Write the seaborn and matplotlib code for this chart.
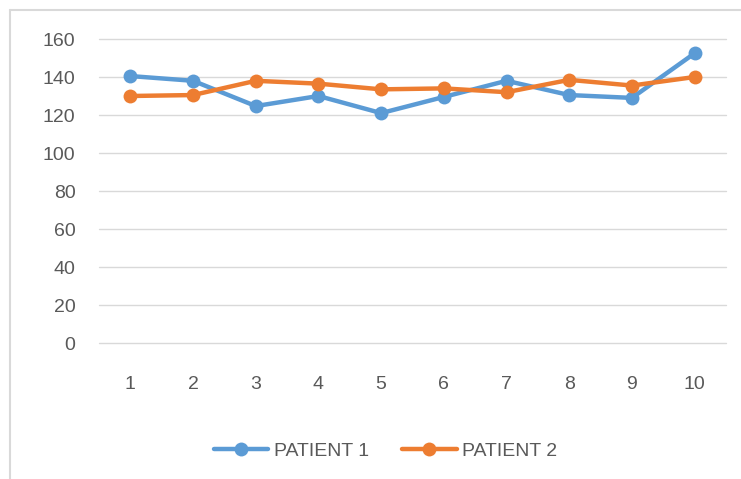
import numpy as np
import pandas as pd
import matplotlib
matplotlib.use('Agg')
import matplotlib.pyplot as plt
import seaborn as sns

# Данные
visits = [1, 2, 3, 4, 5, 6, 7, 8, 9, 10]
patient1 = [140.5, 138, 124.7, 130, 121, 129.5, 138, 130.5, 129, 152.5]
patient2 = [130, 130.5, 138, 136.5, 133.5, 134, 132, 138.5, 135.5, 140]
series_names = ['PATIENT 1', 'PATIENT 2']

df = pd.DataFrame({'visit': visits * 2,
                   'value': patient1 + patient2,
                   'patient': [series_names[0]] * len(visits) + [series_names[1]] * len(visits)})

sns.set_style('white')
plt.rcParams['font.family'] = ['Liberation Sans', 'DejaVu Sans']

fig = plt.figure(figsize=(7.41, 4.79), dpi=100)
ax = fig.add_axes([99 / 741, 1 - 343 / 479, (726 - 99) / 741, (343 - 39) / 479])

palette = {series_names[0]: '#5B9BD5', series_names[1]: '#ED7D31'}
sns.lineplot(data=df, x='visit', y='value', hue='patient', palette=palette,
             marker='o', markersize=10, markeredgewidth=0, linewidth=3.2,
             ax=ax, clip_on=False, zorder=3)

ax.set_xlim(0.5, 10.5)
ax.set_ylim(0, 160)
ax.set_yticks(np.arange(0, 161, 20))
ax.set_xticks(visits)
ax.yaxis.grid(True, color='#D9D9D9', linewidth=1)
for gl in ax.get_ygridlines():
    gl.set_clip_on(False)
ax.xaxis.grid(False)
for s in ax.spines.values():
    s.set_visible(False)
ax.tick_params(axis='both', length=0, labelsize=14, colors='#595959')
ax.tick_params(axis='y', pad=17)
ax.tick_params(axis='x', pad=24)
ax.set_xlabel('')
ax.set_ylabel('')

leg = ax.legend(loc='upper center', bbox_to_anchor=(0.457, -0.27), ncol=2, frameon=False,
                fontsize=14, handlelength=2.8, columnspacing=1.7, handletextpad=0.3)
for t in leg.get_texts():
    t.set_color('#595959')

# Рамка диаграммы
fig.add_artist(plt.Line2D([10 / 741, 1], [1 - 10 / 479, 1 - 10 / 479], color='#D9D9D9', linewidth=1.5))
fig.add_artist(plt.Line2D([10 / 741, 10 / 741], [0, 1 - 10 / 479], color='#D9D9D9', linewidth=1.5))

fig.savefig('out.png', dpi=100)
